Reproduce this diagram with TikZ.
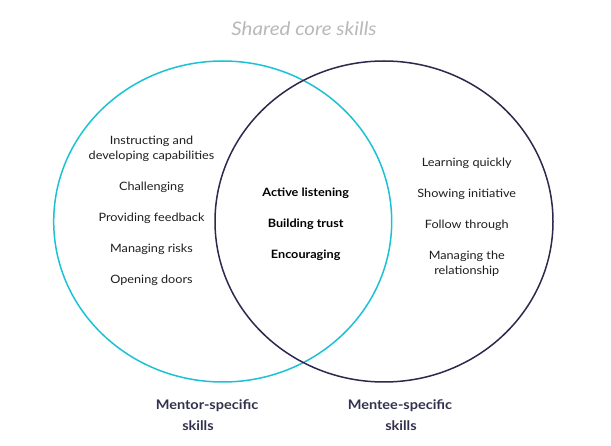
\documentclass[tikz,border=0pt]{standalone}
\usepackage{fontspec}
\setmainfont{Lato}[FakeStretch=1.10]
\definecolor{mentorcyan}{RGB}{28,194,212}
\definecolor{menteenavy}{RGB}{44,42,76}
\definecolor{labelnavy}{RGB}{50,50,78}
\definecolor{titlegray}{RGB}{185,185,185}
\definecolor{bodytext}{RGB}{30,30,30}
\begin{document}
\begin{tikzpicture}[x=1pt,y=-1pt,
  item/.style={font=\fontsize{11.5}{15}\selectfont, text=bodytext, align=center, inner sep=0pt},
  core/.style={font=\fontsize{11.5}{15}\selectfont\bfseries, text=black, align=center, inner sep=0pt},
  grouplabel/.style={font=\fontsize{13.2}{20}\selectfont\bfseries, text=labelnavy, inner sep=0pt},
  titletext/.style={font=\fontsize{18.7}{20}\selectfont\itshape, text=titlegray, inner sep=0pt},
  ring/.style={line width=1.5pt}]
\useasboundingbox (0,0) rectangle (611,446);
\fill[white] (0,0) rectangle (611,446);
\draw[ring, mentorcyan] (222.7,221.5) ellipse [x radius=169, y radius=160.5];
\draw[ring, menteenavy] (384,221.5) ellipse [x radius=169, y radius=160.5];
\node[titletext] (title) at (304,29) {Shared core skills};
% mentor-specific
\node[item] (m1) at (151.5,149) {Instructing and\\developing capabilities};
\node[item] (m2) at (151.5,187.5) {Challenging};
\node[item] (m3) at (151.5,218.5) {Providing feedback};
\node[item] (m4) at (151.5,249.5) {Managing risks};
\node[item] (m5) at (151.5,280.5) {Opening doors};
% shared
\node[core] (c1) at (305.7,193) {Active listening};
\node[core] (c2) at (305.7,224) {Building trust};
\node[core] (c3) at (305.7,255) {Encouraging};
% mentee-specific
\node[item] (e1) at (466.8,163) {Learning quickly};
\node[item] (e2) at (466.8,194) {Showing initiative};
\node[item] (e3) at (466.8,225) {Follow through};
\node[item] (e4) at (466.8,263.5) {Managing the\\relationship};
% group labels
\node[grouplabel] (ml1) at (207,405.5) {Mentor-specific};
\node[grouplabel] (ml2) at (198,425.5) {skills};
\node[grouplabel] (el1) at (400,405.5) {Mentee-specific};
\node[grouplabel] (el2) at (401,425.5) {skills};
\end{tikzpicture}
\end{document}
